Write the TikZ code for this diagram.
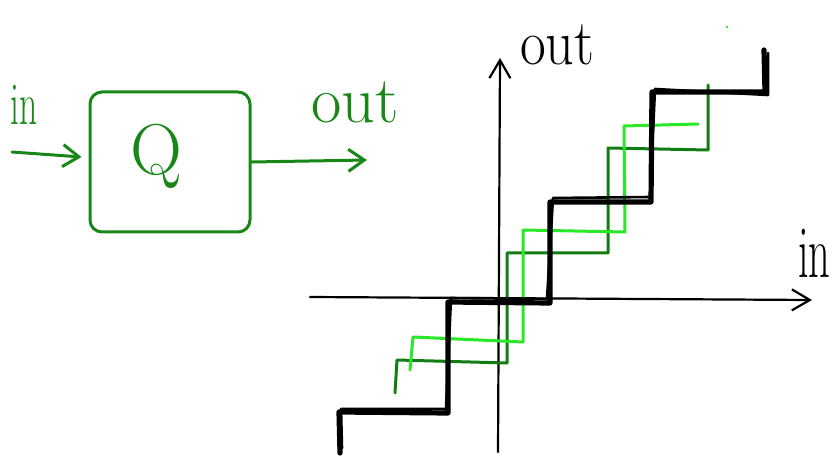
\documentclass[tikz,border=0pt]{standalone}
\usetikzlibrary{arrows.meta}
\definecolor{blockgreen}{RGB}{24,135,24}
\definecolor{darkstair}{RGB}{18,125,18}
\definecolor{lightstair}{RGB}{40,232,40}
\tikzset{
  penline/.style={line cap=round, line join=round},
  gline/.style={penline, draw=blockgreen, line width=3pt},
  garrow/.style={gline, -{Straight Barb[length=16pt,width=22pt,line width=3pt]}},
  axis/.style={penline, draw=black, line width=2.2pt, -{Straight Barb[length=18pt,width=21pt,line width=2.2pt]}},
  blackstair/.style={penline, draw=black, line width=5.2pt},
  blackstairB/.style={penline, draw=black, line width=2.6pt},
  darkstairline/.style={penline, draw=darkstair, line width=3pt},
  lightstairline/.style={penline, draw=lightstair, line width=3pt},
  handtext/.style={inner sep=0pt, anchor=base west},
}
\begin{document}
\begin{tikzpicture}[x=1pt,y=-1pt]
\useasboundingbox (0,0) rectangle (833,457);

% ---------- left block ----------
\node[gline, rounded corners=12pt, minimum width=160pt, minimum height=140pt,
      inner sep=0pt] (box) at (170,162) {};
\node[inner sep=0pt, text=blockgreen, font=\fontsize{72}{72}\selectfont] (q) at (156,156) {Q};
\node[handtext, text=blockgreen, xscale=0.85, yscale=1.45,
      font=\fontsize{42}{42}\selectfont] (inlbl) at (10,125) {in};
\node[handtext, text=blockgreen, font=\fontsize{66}{66}\selectfont] (outlbl) at (311,123) {out};

\coordinate (inS) at (12,152);
\coordinate (outE) at (367,160);
\draw[garrow] (inS) -- ([xshift=-7pt,yshift=5pt]box.west);
\draw[garrow] (box.east) -- (outE);

% ---------- axes ----------
\coordinate (xs) at (310,297);
\coordinate (xe) at (812,300);
\coordinate (ys) at (498,452);
\coordinate (ye) at (500,58);
\draw[axis] (xs) -- (xe);
\draw[axis] (ys) -- (ye);
\node[handtext, xscale=1.0, yscale=1.15, font=\fontsize{56}{56}\selectfont] (yl) at (520,65) {out};
\node[handtext, xscale=0.85, yscale=1.5, font=\fontsize{50}{50}\selectfont] (xl) at (798,277) {in};

% ---------- dark green staircase ----------
\draw[darkstairline] (395,393) -- (397,360) -- (507,363) -- (507,253)
  -- (608,253) -- (608,148) -- (708,150) -- (708,85);

% ---------- light green staircase ----------
\draw[lightstairline] (410,370) -- (413,337) -- (523,342) -- (523,230)
  -- (625,232) -- (624,126) -- (698,124);
\fill[lightstair] (727,27) circle (1.3pt);

% ---------- black staircase ----------
\draw[blackstair] (340,453) -- (339,412) -- (448,413) -- (448,302)
  -- (550,303) -- (550,202) -- (651,202) -- (652,92) -- (765,92) -- (764,50);
\draw[blackstairB] (342,448) -- (341,409) -- (446,409) -- (451,298)
  -- (547,299) -- (553,198) -- (650,197) -- (655,89) -- (768,95) -- (768,53);
\end{tikzpicture}
\end{document}
